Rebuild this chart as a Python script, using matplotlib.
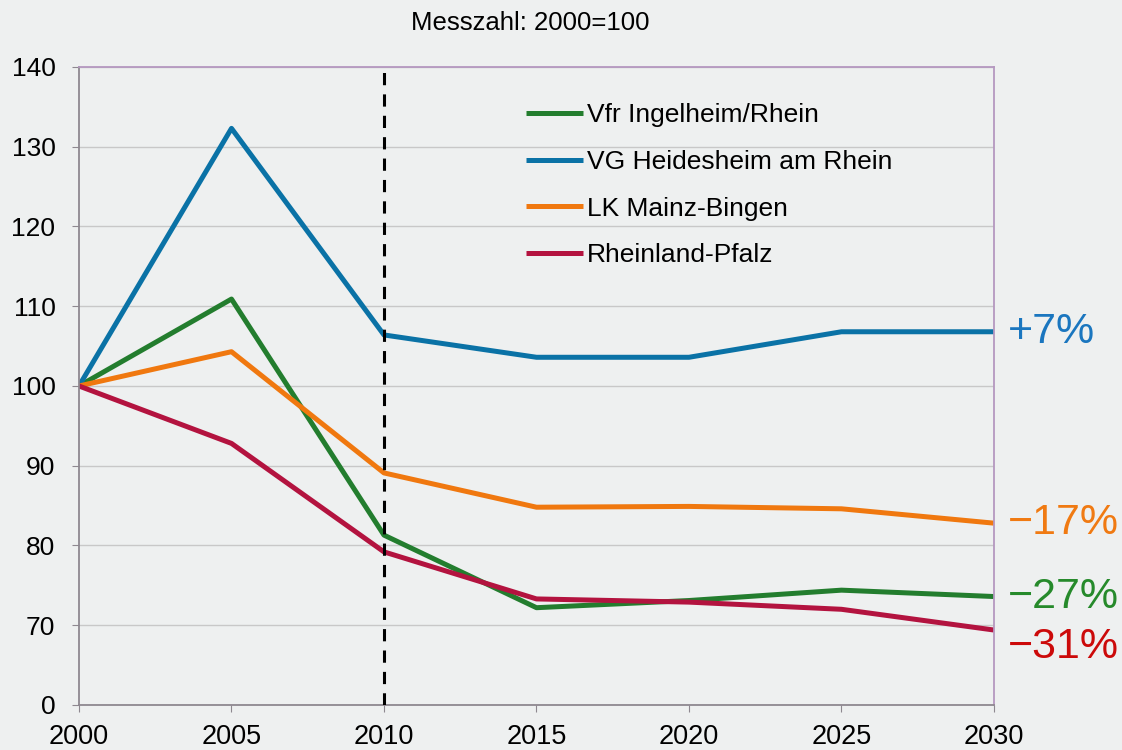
import matplotlib.pyplot as plt
import numpy as np

plt.rcParams['font.family'] = ['Liberation Sans', 'DejaVu Sans']

jahre = [2000, 2005, 2010, 2015, 2020, 2025, 2030]
ingelheim = [100, 110.9, 81.3, 72.2, 73.1, 74.4, 73.6]
heidesheim = [100, 132.3, 106.4, 103.6, 103.6, 106.8, 106.8]
mainz_bingen = [100, 104.3, 89.1, 84.8, 84.9, 84.6, 82.8]
rlp = [100, 92.8, 79.2, 73.3, 72.9, 72.0, 69.4]

namen = ["Vfr Ingelheim/Rhein", "VG Heidesheim am Rhein", "LK Mainz-Bingen", "Rheinland-Pfalz"]
reihen = [ingelheim, heidesheim, mainz_bingen, rlp]
farben = ["#237d2e", "#0a72a6", "#f0780f", "#b3133f"]
labels = ["\u221227%", "+7%", "\u221217%", "\u221231%"]
label_farben = ["#268a2b", "#1a76bf", "#f07a12", "#cc0a0a"]
label_dy = [0, 0, 0, -12]

# y-Achse ist unterbrochen: 60 wird als 0 beschriftet
y_ticks = [60, 70, 80, 90, 100, 110, 120, 130, 140]
y_ticklabels = ["0", "70", "80", "90", "100", "110", "120", "130", "140"]

bg = "#eef0f0"
fig = plt.figure(figsize=(11.22, 7.5), dpi=100, facecolor=bg)
ax = fig.add_axes([0.0704, 0.06, 0.8155, 0.8507])
ax.set_facecolor(bg)

for name, werte, f in zip(namen, reihen, farben):
    ax.plot(jahre, werte, color=f, lw=3.6, label=name, solid_capstyle='butt')

ax.axvline(2010, color='black', lw=2.2, ls=(0, (4, 3)), zorder=5)

for werte, txt, f, dy in zip(reihen, labels, label_farben, label_dy):
    ax.annotate(txt, xy=(jahre[-1], werte[-1]), xytext=(10, dy), textcoords='offset points',
                color=f, fontsize=31, va='center', ha='left', annotation_clip=False)

ax.set_xlim(2000, 2030)
ax.set_ylim(60, 140)
ax.set_xticks(jahre)
ax.set_yticks(y_ticks)
ax.set_yticklabels(y_ticklabels)
ax.tick_params(axis='y', labelsize=19, length=5, pad=12, color='#8e8890')
ax.tick_params(axis='x', labelsize=19.5, length=5, pad=9, color='#8e8890')
ax.grid(axis='y', color='#c8c8c8', lw=1)
ax.set_axisbelow(True)

ax.spines['left'].set_color('#8e8890')
ax.spines['bottom'].set_color('#8e8890')
ax.spines['top'].set_color('#b598c0')
ax.spines['right'].set_color('#b598c0')
for s in ax.spines.values():
    s.set_linewidth(1.3)

ax.legend(loc='upper left', bbox_to_anchor=(0.4745, 0.964), frameon=False, fontsize=19,
          handlelength=2.15, handletextpad=0.15, labelspacing=0.86, borderpad=0)

fig.text(0.473, 0.97, "Messzahl: 2000=100", ha='center', va='center', fontsize=18.5)

fig.savefig("out.png", dpi=100, facecolor=bg)
